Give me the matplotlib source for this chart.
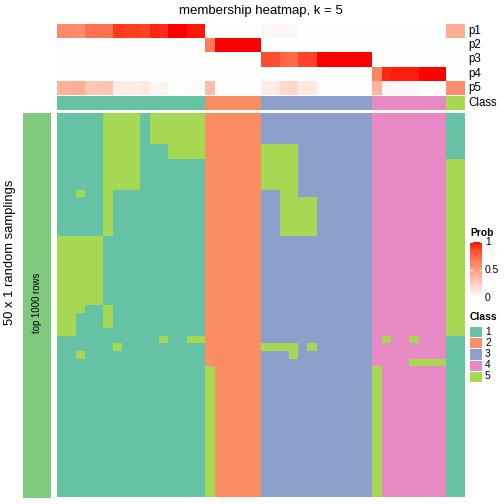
import numpy as np
import matplotlib.pyplot as plt
from matplotlib.colors import ListedColormap

plt.rcParams['font.family'] = ['Liberation Sans', 'DejaVu Sans']

# ---- data ----
title = 'membership heatmap, k = 5'
class_names = ['1', '2', '3', '4', '5']
class_colors = ['#66C2A5', '#FC8D62', '#8DA0CB', '#E78AC3', '#A6D854']

# class of each column (top "Class" annotation)
col_class = [1] * 16 + [2] * 6 + [3] * 12 + [4] * 8 + [5] * 2

# membership probabilities per column
p1 = [0.60, 0.60, 0.58, 0.71, 0.71, 0.70, 0.91, 0.90, 0.90, 0.88, 0.96, 0.94, 1.00, 1.00, 0.98, 0.98,
      0, 0, 0, 0, 0, 0,
      0.05, 0.05, 0.05, 0.05, 0, 0, 0, 0, 0, 0, 0, 0,
      0, 0, 0, 0, 0, 0, 0, 0,
      0.42, 0.42]
p2 = [0] * 16 + [0.66, 1, 1, 1, 1, 1] + [0] * 12 + [0] * 8 + [0, 0]
p3 = [0] * 16 + [0] * 6 + [0.85, 0.85, 0.75, 0.73, 0.88, 0.88, 1, 1, 1, 1, 1, 1] + [0] * 8 + [0, 0]
p4 = [0] * 16 + [0] * 6 + [0] * 12 + [0.62, 0.95, 0.97, 0.97, 0.97, 1, 1, 1] + [0, 0]
p5 = [0.40, 0.40, 0.42, 0.29, 0.29, 0.30, 0.09, 0.10, 0.10, 0.12, 0.04, 0.06, 0.00, 0.00, 0.02, 0.02,
      0.34, 0, 0, 0, 0, 0,
      0.10, 0.10, 0.20, 0.22, 0.12, 0.12, 0, 0, 0, 0, 0, 0,
      0.38, 0.05, 0.03, 0.03, 0.03, 0, 0, 0,
      0.58, 0.58]
prob_labels = ['p1', 'p2', 'p3', 'p4', 'p5']

# class assigned in each of the 50 random samplings (rows) x 44 samples (columns)
samplings = (
    ['1111155551555555' '222222' '333333333333' '44444444' '11'] * 4 +
    ['1111155551115555' '222222' '555533333333' '44444444' '11'] * 2 +
    ['1111155551111111' '222222' '555533333333' '44444444' '55'] * 4 +
    ['1151151111111111' '222222' '335533333333' '44444444' '55'] * 1 +
    ['1111151111111111' '222222' '335555333333' '44444444' '55'] * 5 +
    ['5555511111111111' '222222' '333333333333' '44444444' '55'] * 9 +
    ['5551151111111111' '222222' '333333333333' '44444444' '55'] * 1 +
    ['5511151111111111' '222222' '333333333333' '44444444' '55'] * 2 +
    ['5511111111111111' '222222' '333333333333' '44444444' '55'] * 1 +
    ['1111111111151155' '222222' '333333333333' '45445444' '11'] * 1 +
    ['1111115111111111' '222222' '555535333333' '44444444' '11'] * 1 +
    ['1151111111111111' '222222' '333533333333' '44444444' '11'] * 1 +
    ['1111111111111111' '222222' '333333333333' '44445555' '11'] * 1 +
    ['1111111111111111' '522222' '333333333333' '54444444' '11'] * 17
)


def lab_to_rgb(L, a, b):
    fy = (L + 16) / 116
    fx = fy + a / 500
    fz = fy - b / 200

    def finv(t):
        return np.where(t > 6 / 29, t ** 3, 3 * (6 / 29) ** 2 * (t - 4 / 29))

    X = 0.95047 * finv(fx)
    Y = finv(fy)
    Z = 1.08883 * finv(fz)
    r = 3.2406 * X - 1.5372 * Y - 0.4986 * Z
    g = -0.9689 * X + 1.8758 * Y + 0.0415 * Z
    bb = 0.0557 * X - 0.2040 * Y + 1.0570 * Z
    rgb = np.clip(np.stack([r, g, bb], axis=-1), 0, 1)
    return np.where(rgb > 0.0031308, 1.055 * rgb ** (1 / 2.4) - 0.055, 12.92 * rgb)


# white -> red ramp interpolated in LAB space
t = np.linspace(0, 1, 256)
prob_cmap = ListedColormap(lab_to_rgb(100 + t * (53.24 - 100), t * 80.09, t * 67.20))
class_cmap = ListedColormap(class_colors)

W = H = 504
fig = plt.figure(figsize=(5.04, 5.04), dpi=100)


def add_ax(x0, y0, x1, y1):
    ax = fig.add_axes([x0 / W, 1 - y1 / H, (x1 - x0) / W, (y1 - y0) / H])
    ax.set_axis_off()
    return ax


def ftext(x, y, s, **kw):
    fig.text(x / W, 1 - y / H, s, **kw)


# top annotation: probabilities
ax = add_ax(57, 24, 465, 95)
ax.imshow(np.array([p1, p2, p3, p4, p5]), cmap=prob_cmap, vmin=0, vmax=1,
          aspect='auto', interpolation='nearest')

# top annotation: class
ax = add_ax(57, 96, 465, 110)
ax.imshow(np.array([col_class]), cmap=class_cmap, vmin=0.5, vmax=5.5,
          aspect='auto', interpolation='nearest')

for i, lab in enumerate(prob_labels + ['Class']):
    y = 31 + i * 14.2 if i < 5 else 103
    ftext(468, y, lab, fontsize=8.3, va='center', ha='left')

# main heatmap
mat = np.array([[int(c) for c in row] for row in samplings])
ax = add_ax(57, 113, 465, 497)
ax.imshow(mat, cmap=class_cmap, vmin=0.5, vmax=5.5, aspect='auto', interpolation='nearest')

# left bar
ax = add_ax(23, 113, 51, 498)
ax.set_facecolor('#7FC97F')
ax.set_axis_on()
ax.set_xticks([])
ax.set_yticks([])
for s in ax.spines.values():
    s.set_visible(False)
ftext(37, 303, 'top 1000 rows', fontsize=6.9, rotation=90, ha='center', va='center')
ftext(10, 252, '50 x 1 random samplings', fontsize=9.4, rotation=90, ha='center', va='center')

ftext(261, 11, title, fontsize=9.5, ha='center', va='center')

# legend: Prob
ftext(470, 233, 'Prob', fontsize=7.4, fontweight='bold', ha='left', va='center')
ax = add_ax(470, 242, 482, 298)
ax.imshow(np.linspace(1, 0, 100).reshape(-1, 1), cmap=prob_cmap, vmin=0, vmax=1,
          aspect='auto', extent=[0, 1, 0, 1])
for v in [0, 0.5, 1]:
    ax.plot([0, 0.2], [v, v], color='white', lw=0.8)
    ax.plot([0.8, 1], [v, v], color='white', lw=0.8)
ax.set_xlim(0, 1)
ax.set_ylim(0, 1)
for v, lab in zip([1, 0.5, 0], ['1', '0.5', '0']):
    ftext(485, 298 - v * 56, lab, fontsize=7.4, ha='left', va='center')

# legend: Class
ftext(470, 317, 'Class', fontsize=7.4, fontweight='bold', ha='left', va='center')
ax = add_ax(470, 326, 482, 382)
ax.imshow(np.arange(1, 6).reshape(-1, 1), cmap=class_cmap, vmin=0.5, vmax=5.5,
          aspect='auto', interpolation='nearest')
for i, lab in enumerate(class_names):
    ax.axhline(i - 0.5, color='white', lw=0.8)
    ftext(485, 326 + 11.2 * (i + 0.5), lab, fontsize=7.4, ha='left', va='center')

fig.savefig('out.png', dpi=100)
